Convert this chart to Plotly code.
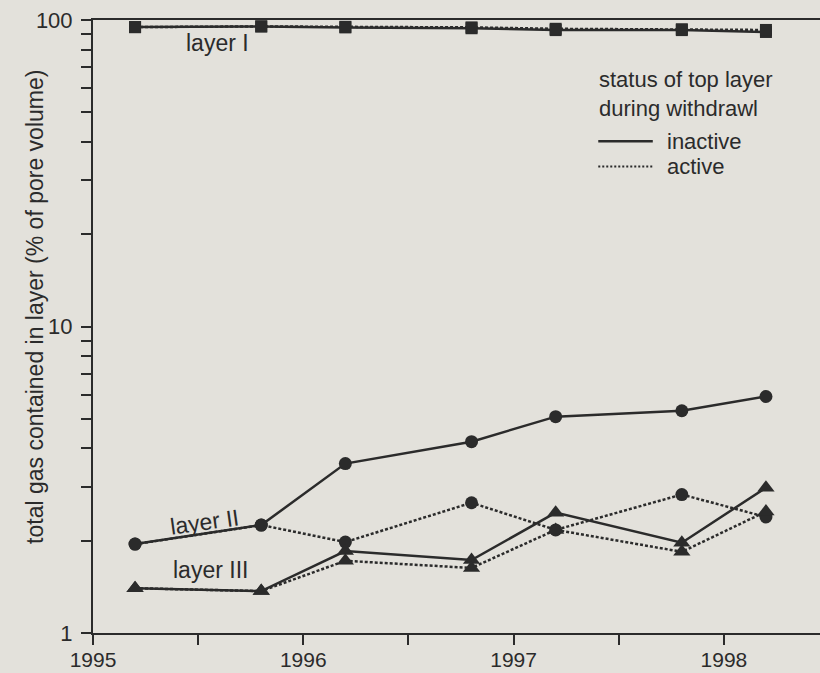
import plotly.graph_objects as go

# --- data ---
years = [1995.2, 1995.8, 1996.2, 1996.8, 1997.2, 1997.8, 1998.2]

layer1_inactive = [94.8, 95.3, 94.6, 94.0, 92.7, 92.7, 91.4]
layer1_active = [94.8, 95.3, 95.0, 94.6, 93.6, 93.3, 92.8]

layer2_inactive = [1.95, 2.25, 3.57, 4.21, 5.08, 5.31, 5.91]
layer2_active = [1.95, 2.25, 1.98, 2.66, 2.17, 2.83, 2.39]

layer3_inactive = [1.40, 1.37, 1.85, 1.73, 2.47, 1.97, 2.98]
layer3_active = [1.40, 1.37, 1.72, 1.63, 2.17, 1.84, 2.49]

x_tickvals = [1995, 1995.5, 1996, 1996.5, 1997, 1997.5, 1998]
x_ticktext = ["1995", "", "1996", "", "1997", "", "1998"]
y_tickvals = [1, 2, 3, 4, 5, 6, 7, 8, 9, 10, 20, 30, 40, 50, 60, 70, 80, 90, 100]
y_ticktext = ["1"] + [""] * 8 + ["10"] + [""] * 8 + ["100"]

INK = "#2b2b2b"
BG = "#e3e1db"
FONT = "Liberation Sans, Arial, sans-serif"
FS = 23

series = [
    (layer1_inactive, "square", 12, "solid"),
    (layer1_active, "square", 12, "3px,2px"),
    (layer2_inactive, "circle", 13, "solid"),
    (layer2_active, "circle", 13, "3px,2px"),
    (layer3_inactive, "triangle-up", 15, "solid"),
    (layer3_active, "triangle-up", 15, "3px,2px"),
]

fig = go.Figure()
for vals, sym, size, dash in series:
    fig.add_trace(go.Scatter(
        x=years, y=vals, mode="lines+markers", showlegend=False,
        line=dict(color=INK, width=2.5, dash=dash),
        marker=dict(symbol=sym, size=size, color=INK),
        cliponaxis=False,
    ))

# --- legend drawn by hand (tight spacing like the original) ---
fig.add_annotation(x=0.693, y=0.879, xref="paper", yref="paper",
                   text="status of top layer<br>during withdrawl",
                   showarrow=False, xanchor="left", yanchor="middle", align="left",
                   font=dict(size=22, color=INK, family=FONT))
fig.add_shape(type="line", xref="paper", yref="paper", x0=0.695, x1=0.770, y0=0.802, y1=0.802,
              line=dict(color=INK, width=2.5))
fig.add_shape(type="line", xref="paper", yref="paper", x0=0.695, x1=0.770, y0=0.761, y1=0.761,
              line=dict(color=INK, width=2, dash="2px,2px"))
fig.add_annotation(x=0.787, y=0.802, xref="paper", yref="paper", text="inactive",
                   showarrow=False, xanchor="left", yanchor="middle",
                   font=dict(size=22, color=INK, family=FONT))
fig.add_annotation(x=0.787, y=0.761, xref="paper", yref="paper", text="active",
                   showarrow=False, xanchor="left", yanchor="middle",
                   font=dict(size=22, color=INK, family=FONT))

# --- layer labels ---
fig.add_annotation(x=1995.59, y=1.925, yref="y", text="layer I", showarrow=False,
                   font=dict(size=FS, color=INK, family=FONT))
fig.add_annotation(x=1995.53, y=0.362, yref="y", text="layer II", showarrow=False, textangle=-8,
                   font=dict(size=FS, color=INK, family=FONT))
fig.add_annotation(x=1995.56, y=0.2055, yref="y", text="layer III", showarrow=False,
                   font=dict(size=FS, color=INK, family=FONT))

# y title as annotation so it sits where the original has it
fig.add_annotation(x=-0.1004, y=0.532, xref="paper", yref="paper",
                   text="total gas contained in layer (% of pore volume)",
                   showarrow=False, textangle=-90,
                   font=dict(size=FS, color=INK, family=FONT))

fig.update_xaxes(range=[1995, 1998.457], tickvals=x_tickvals, ticktext=x_ticktext,
                 ticks="outside", ticklen=10, tickwidth=1.5, tickcolor=INK,
                 showline=True, linecolor=INK, linewidth=2, mirror=True,
                 showgrid=False, zeroline=False, ticklabelstandoff=-3, automargin=False,
                 tickfont=dict(size=21, color=INK, family=FONT))
fig.update_yaxes(type="log", range=[0, 2], tickvals=y_tickvals, ticktext=y_ticktext,
                 ticks="outside", ticklen=10, tickwidth=1.5, tickcolor=INK,
                 showline=True, linecolor=INK, linewidth=2,
                 showgrid=False, zeroline=False, ticklabelstandoff=4, automargin=False,
                 tickfont=dict(size=22, color=INK, family=FONT))

fig.update_layout(width=820, height=673, margin=dict(l=93, r=0, t=20, b=40),
                  paper_bgcolor=BG, plot_bgcolor=BG,
                  font=dict(family=FONT, color=INK))

# the page's default body margin would push the 820x673 figure off screen
fig.write_html("out.html", config={"displayModeBar": False},
               post_script="document.body.style.margin='0';")
